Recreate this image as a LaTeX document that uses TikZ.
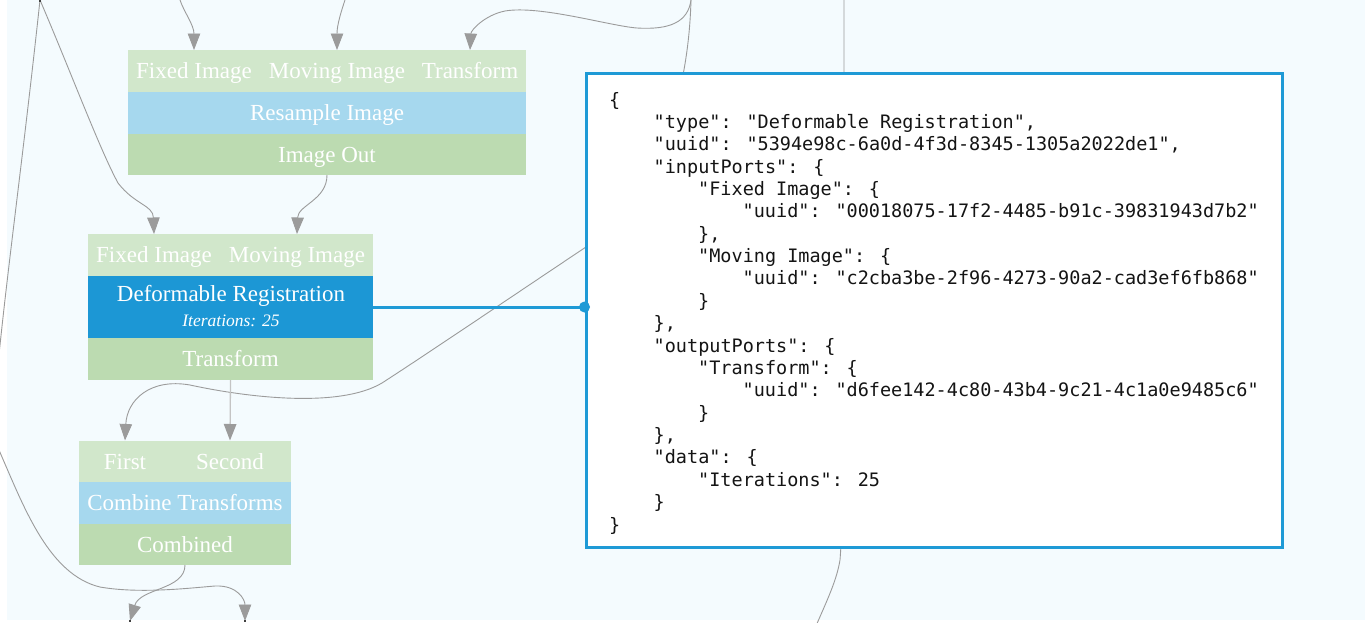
\documentclass[tikz,border=0pt]{standalone}
\usepackage{fontspec}
\setmainfont{Liberation Serif}
\newfontfamily\jsonfont{DejaVu Sans Mono}
\usetikzlibrary{arrows.meta}
\definecolor{bgc}{HTML}{F4FBFE}
\definecolor{wirec}{HTML}{9B9B9B}
\definecolor{wirelight}{HTML}{C4C4C4}
\definecolor{portc}{HTML}{D1E7CB}
\definecolor{titlec}{HTML}{A6D8EE}
\definecolor{outc}{HTML}{BCDBB1}
\definecolor{selc}{HTML}{1C97D5}
\definecolor{panelc}{HTML}{1E9AD6}
\tikzset{
  wire/.style={draw=wirec, line width=0.9pt, -{Triangle[length=16.5pt,width=12.5pt,color=wirec]}},
  wirepale/.style={draw=wirelight, line width=1.3pt, -{Triangle[length=16.5pt,width=12.5pt,color=wirec]}},
  row/.style={rectangle, inner sep=0pt, outer sep=0pt, text=white,
    font=\fontsize{23}{27}\selectfont, text height=15.2pt, text depth=0pt},
  portrow/.style={row, fill=portc},
  titlerow/.style={row, fill=titlec},
  outrow/.style={row, fill=outc},
  selrow/.style={row, fill=selc},
  port/.style={row, minimum height=42pt},
  jline/.style={anchor=base west, inner sep=0pt, text=black!92,
    font=\jsonfont\fontsize{18.5}{22}\selectfont},
  tick/.style={fill=black!75}
}
\begin{document}
\begin{tikzpicture}[x=1pt,y=-1pt]
\useasboundingbox (0,0) rectangle (1366,622);
\fill[white] (0,0) rectangle (1366,622);
\fill[bgc] (7,0) rectangle (1365,620);

% free ends
\coordinate (srcA) at (40,0);
\coordinate (srcB) at (180,0);
\coordinate (srcC) at (345,0);
\coordinate (srcD) at (691,0);
\coordinate (srcE) at (844,0);
\coordinate (dstA) at (130,621);
\coordinate (dstB) at (245,621);
\coordinate (dstE) at (808,645);

% Resample Image block
\node[portrow, minimum width=398pt, minimum height=42pt] (rs-in) at (327,71) {};
\node[port] (rs-fixed) at (194,71) {Fixed Image};
\node[port] (rs-moving) at (337,71) {Moving Image};
\node[port] (rs-tr) at (470,71) {Transform};
\node[titlerow, minimum width=398pt, minimum height=42pt] (rs-title) at (327,113) {Resample Image};
\node[outrow, minimum width=398pt, minimum height=41pt] (rs-out) at (327,154.5) {Image Out};

% Deformable Registration block
\node[portrow, minimum width=285pt, minimum height=42pt] (dr-in) at (230.5,255) {};
\node[port] (dr-fixed) at (154,255) {Fixed Image};
\node[port] (dr-moving) at (297,255) {Moving Image};
\node[selrow, minimum width=285pt, minimum height=62pt] (dr-title) at (230.5,307) {};
\node[anchor=base, inner sep=0pt, text=white, font=\fontsize{23}{27}\selectfont] (dr-name) at (231,301) {Deformable Registration};
\node[anchor=base, inner sep=0pt, text=white, font=\fontsize{17.5}{20}\selectfont\itshape] (dr-iter) at (231,326) {Iterations: 25};
\node[outrow, minimum width=285pt, minimum height=42pt] (dr-out) at (230.5,359) {Transform};

% Combine Transforms block
\node[portrow, minimum width=212pt, minimum height=41pt] (ct-in) at (185,461.5) {};
\node[port] (ct-first) at (125,461.5) {First};
\node[port] (ct-second) at (230,461.5) {Second};
\node[titlerow, minimum width=212pt, minimum height=42pt] (ct-title) at (185,503) {Combine Transforms};
\node[outrow, minimum width=212pt, minimum height=41pt] (ct-out) at (185,544.5) {Combined};

% connectors
\draw[wire] (srcA) .. controls (25,140) and (10,250) .. (0,345)
  .. controls (-8,420) and (-10,430) .. (2,457)
  .. controls (25,510) and (50,575) .. (100,587)
  .. controls (140,594) and (190,588) .. (215,586)
  .. controls (238,585) and (245,600) .. (dstB);
\draw[wire] (srcA) .. controls (70,70) and (100,150) .. (118,183)
  .. controls (135,205) and (153,205) .. (dr-fixed.north);
\draw[wire] (srcB) .. controls (184,12) and (194,25) .. (rs-fixed.north);
\draw[wire] (srcC) .. controls (341,12) and (337,25) .. (rs-moving.north);
\draw[wire] (srcD) .. controls (688,22) and (670,30) .. (637,28)
  .. controls (610,26) and (540,5) .. (505,11)
  .. controls (485,15) and (471,30) .. (rs-tr.north);
\draw[wire] (srcD) .. controls (688,110) and (650,200) .. (586,247)
  .. controls (520,291) and (430,352) .. (382,383)
  .. controls (340,408) and (250,398) .. (190,385)
  .. controls (150,378) and (127,400) .. (ct-first.north);
\draw[draw=wirec, line width=0.9pt] (srcE) .. controls (844,250) and (845,500) .. (840,560)
  .. controls (836,585) and (822,610) .. (dstE);
\draw[wire] (rs-out.south) .. controls (327,200) and (298,205) .. (dr-moving.north);
\draw[wirepale] (dr-out.south) -- (ct-second.north);
\draw[wire] (ct-out.south) .. controls (185,590) and (140,588) .. (dstA);

\fill[tick] (39,0) rectangle (41,1.5);
\fill[tick] (129,620) rectangle (131,622);
\fill[tick] (244,620) rectangle (246,622);

% JSON panel
\node[draw=panelc, line width=3pt, fill=white, inner sep=0pt,
  minimum width=696pt, minimum height=474pt] (panel) at (934,310) {};
\draw[panelc, line width=3pt] (dr-title.east) -- (dr-title.east -| panel.west) coordinate (dotpt);
\fill[panelc] (dotpt) circle (5.5pt);

\node[jline] (j0) at (609,106) {\{};
\node[jline] (j1) at (653.5,128.37) {"type": "Deformable Registration",};
\node[jline] (j2) at (653.5,150.74) {"uuid": "5394e98c-6a0d-4f3d-8345-1305a2022de1",};
\node[jline] (j3) at (653.5,173.11) {"inputPorts": \{};
\node[jline] (j4) at (698,195.48) {"Fixed Image": \{};
\node[jline] (j5) at (742.5,217.85) {"uuid": "00018075-17f2-4485-b91c-39831943d7b2"};
\node[jline] (j6) at (698,240.22) {\},};
\node[jline] (j7) at (698,262.59) {"Moving Image": \{};
\node[jline] (j8) at (742.5,284.96) {"uuid": "c2cba3be-2f96-4273-90a2-cad3ef6fb868"};
\node[jline] (j9) at (698,307.33) {\}};
\node[jline] (j10) at (653.5,329.7) {\},};
\node[jline] (j11) at (653.5,352.07) {"outputPorts": \{};
\node[jline] (j12) at (698,374.44) {"Transform": \{};
\node[jline] (j13) at (742.5,396.81) {"uuid": "d6fee142-4c80-43b4-9c21-4c1a0e9485c6"};
\node[jline] (j14) at (698,419.18) {\}};
\node[jline] (j15) at (653.5,441.55) {\},};
\node[jline] (j16) at (653.5,463.92) {"data": \{};
\node[jline] (j17) at (698,486.29) {"Iterations": 25};
\node[jline] (j18) at (653.5,508.66) {\}};
\node[jline] (j19) at (609,531.03) {\}};
\end{tikzpicture}
\end{document}
